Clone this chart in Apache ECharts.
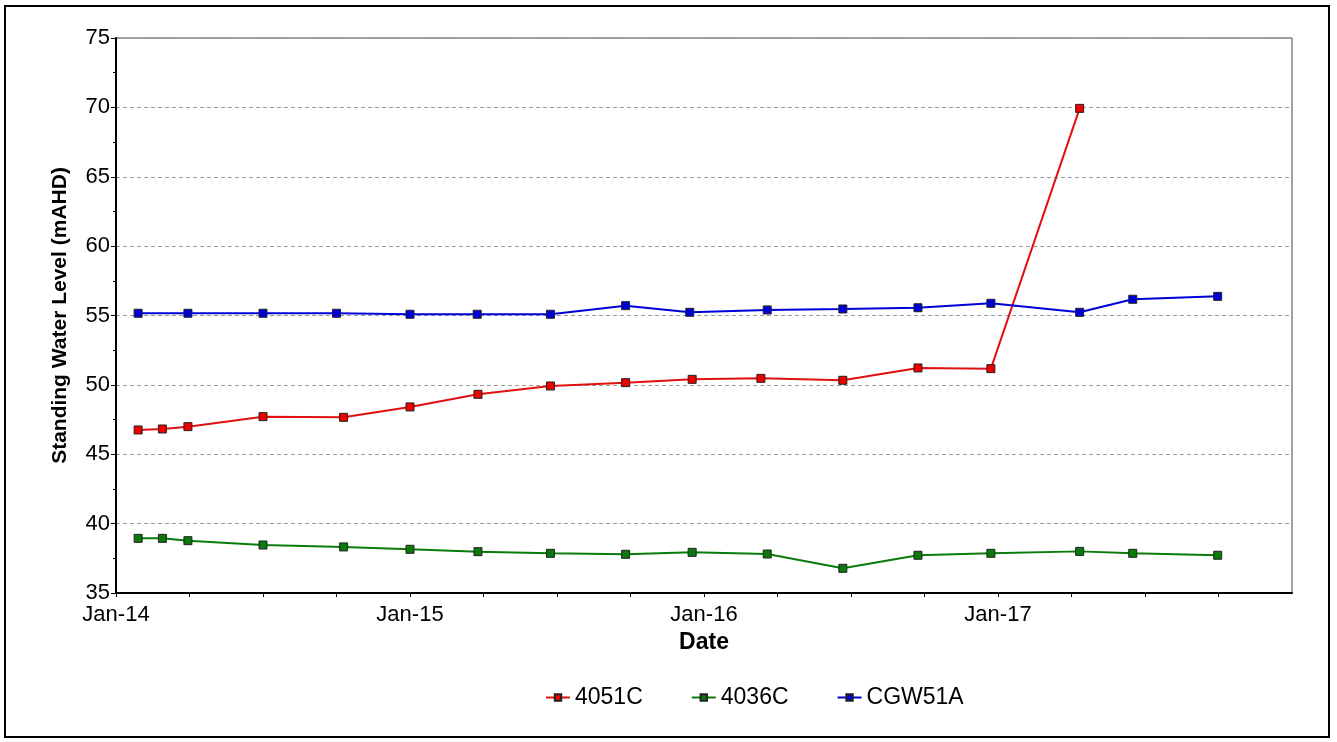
<!DOCTYPE html>
<html>
<head>
<meta charset="utf-8">
<script src="https://cdn.jsdelivr.net/npm/echarts@6/dist/echarts.min.js"></script>
<style>
html,body{margin:0;padding:0;background:#fff;}
#c{width:1337px;height:742px;}
</style>
</head>
<body>
<div id="c"></div>
<script>
// Data (dates as YYYY-MM-DD, values in mAHD)
const datesRed = ['2014-01-29','2014-02-26','2014-03-30','2014-07-01','2014-10-10','2015-01-01','2015-03-25','2015-06-23','2015-09-25','2015-12-17','2016-03-11','2016-06-21','2016-09-23','2016-12-23','2017-04-11'];
const valuesRed = [46.75,46.82,46.99,47.71,47.66,48.41,49.32,49.92,50.16,50.40,50.47,50.33,51.22,51.17,69.93];

const datesGreen = ['2014-01-29','2014-02-26','2014-03-30','2014-07-01','2014-10-10','2015-01-01','2015-03-25','2015-06-23','2015-09-25','2015-12-17','2016-03-19','2016-06-21','2016-09-23','2016-12-23','2017-04-11','2017-06-16','2017-09-30'];
const valuesGreen = [38.94,38.94,38.77,38.46,38.32,38.15,37.98,37.86,37.79,37.93,37.81,36.78,37.72,37.86,38.00,37.86,37.72];

const datesBlue = ['2014-01-29','2014-03-30','2014-07-01','2014-10-01','2015-01-01','2015-03-24','2015-06-23','2015-09-25','2015-12-14','2016-03-19','2016-06-21','2016-09-23','2016-12-23','2017-04-11','2017-06-16','2017-09-30'];
const valuesBlue = [55.16,55.16,55.16,55.16,55.09,55.09,55.09,55.71,55.23,55.40,55.47,55.56,55.88,55.23,56.17,56.38];

const seriesNames = ['4051C','4036C','CGW51A'];
const baseYear = 2014;

// convert a date string to months since Jan baseYear (axis unit)
function toMonths(s){
  const [y,m,d] = s.split('-').map(Number);
  const dim = new Date(Date.UTC(y, m, 0)).getUTCDate();
  return (y-baseYear)*12 + (m-1) + (d-1)/dim;
}
function pairs(dates, vals){ return dates.map((d,i)=>[toMonths(d), vals[i]]); }

const FONT = 'Liberation Sans, Arial, sans-serif';
const chart = echarts.init(document.getElementById('c'), null, {renderer:'canvas'});

function mkSeries(name, data, lineColor, fill){
  return {
    name, type:'line', data, symbol:'rect', symbolSize:8,
    lineStyle:{color:lineColor, width:2},
    itemStyle:{color:fill, borderColor:'#222', borderWidth:1},
    emphasis:{disabled:true}, animation:false
  };
}

chart.setOption({
  animation:false,
  backgroundColor:'#fff',
  graphic:[{type:'rect', shape:{x:5,y:6,width:1324,height:731}, style:{fill:'none', stroke:'#000', lineWidth:2}, silent:true}],
  grid:{left:116, top:38, right:45, bottom:149, show:true, borderColor:'#444', borderWidth:1},
  legend:{
    top:681, left:540, itemGap:48, itemWidth:24, itemHeight:8,
    textStyle:{fontFamily:FONT, fontSize:23, color:'#000'},
    data:seriesNames
  },
  xAxis:{
    type:'value', min:0, max:48, interval:3,
    name:'Date', nameLocation:'middle', nameGap:38,
    nameTextStyle:{fontFamily:FONT, fontSize:23, fontWeight:'bold', color:'#000'},
    axisLine:{lineStyle:{color:'#000', width:2}},
    axisTick:{show:true, length:4, lineStyle:{color:'#000'}},
    splitLine:{show:false},
    axisLabel:{fontFamily:FONT, fontSize:22, color:'#000', margin:11, showMaxLabel:false,
      formatter:v=> (Math.round(v)%12===0 && v < 48) ? 'Jan-' + String(baseYear + Math.round(v)/12).slice(2) : ''}
  },
  yAxis:{
    type:'value', min:35, max:75, interval:5,
    name:'Standing Water Level (mAHD)', nameLocation:'middle', nameGap:45,
    nameTextStyle:{fontFamily:FONT, fontSize:21, fontWeight:'bold', color:'#000'},
    axisLine:{show:true, lineStyle:{color:'#000', width:2}},
    axisTick:{show:true, length:5, lineStyle:{color:'#000'}},
    minorTick:{show:true, splitNumber:2, length:3, lineStyle:{color:'#000'}},
    splitLine:{show:true, lineStyle:{color:'#999', type:[4,3], width:1}},
    axisLabel:{fontFamily:FONT, fontSize:22, color:'#000', margin:6}
  },
  series:[
    mkSeries(seriesNames[0], pairs(datesRed, valuesRed), '#e01010', '#ee0000'),
    mkSeries(seriesNames[1], pairs(datesGreen, valuesGreen), '#0a7a0a', '#0a7a0a'),
    mkSeries(seriesNames[2], pairs(datesBlue, valuesBlue), '#0000d8', '#0000d8')
  ]
});
</script>
</body>
</html>
